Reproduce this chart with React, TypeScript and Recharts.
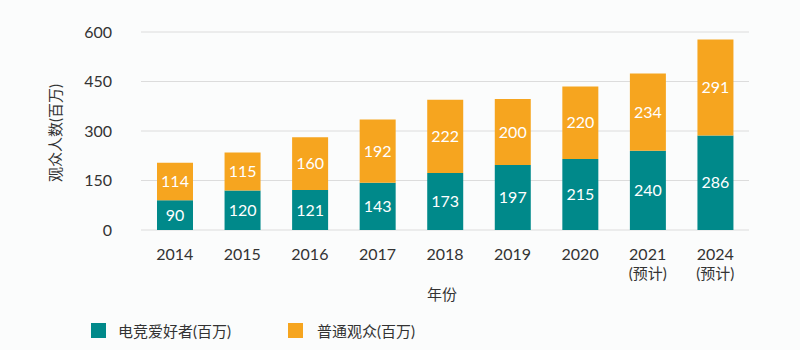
import React from "react"
import { BarChart, Bar, XAxis, YAxis, CartesianGrid, LabelList } from "recharts"

const years = ["2014", "2015", "2016", "2017", "2018", "2019", "2020", "2021\n(预计)", "2024\n(预计)"]
const esportsFans = [90, 120, 121, 143, 173, 197, 215, 240, 286]
const casualViewers = [114, 115, 160, 192, 222, 200, 220, 234, 291]
const yTicks = [0, 150, 300, 450, 600]

const TEAL = "#00898a"
const ORANGE = "#f6a51f"
const TEXT = "#333333"
const FONT = "Lato, 'Noto Sans CJK SC', sans-serif"

const data = years.map((year, i) => ({
  year,
  fans: esportsFans[i],
  casual: casualViewers[i],
}))

const YearTick = ({ x, y, payload }: any) => {
  const lines = String(payload.value).split("\n")
  return (
    <text x={x} y={y} textAnchor="middle" fill={TEXT} fontSize={16} fontFamily={FONT}>
      {lines.map((line, i) => (
        <tspan key={i} x={x} dy={i === 0 ? 28 : 19} fontSize={i === 0 ? 16 : 15}>
          {line}
        </tspan>
      ))}
    </text>
  )
}

export default function App() {
  return (
    <div
      style={{
        position: "fixed",
        left: 0,
        top: 0,
        width: 800,
        height: 350,
        background: "#fbfcfc",
        fontFamily: FONT,
      }}
    >
      <BarChart width={800} height={350} data={data} margin={{ top: 32, right: 51, left: 0, bottom: 0 }}>
        <CartesianGrid vertical={false} stroke="#dcdcdc" />
        <XAxis
          dataKey="year"
          axisLine={false}
          tickLine={false}
          tickSize={0}
          height={120}
          interval={0}
          tick={<YearTick />}
          label={{
            content: ({ viewBox }: any) => (
              <text
                x={viewBox.x + viewBox.width / 2 - 3}
                y={300}
                textAnchor="middle"
                fill={TEXT}
                fontSize={15}
                fontFamily={FONT}
              >
                年份
              </text>
            ),
          }}
        />
        <YAxis
          width={141}
          domain={[0, 600]}
          ticks={yTicks}
          axisLine={false}
          tickLine={false}
          tickSize={0}
          tickMargin={29}
          tick={{ fill: TEXT, fontSize: 16, fontFamily: FONT }}
          label={{
            content: ({ viewBox }: any) => {
              const cy = viewBox.y + viewBox.height / 2 + 2
              return (
                <text
                  x={55}
                  y={cy}
                  transform={`rotate(-90, 55, ${cy})`}
                  textAnchor="middle"
                  dominantBaseline="central"
                  fill={TEXT}
                  fontSize={15}
                  fontFamily={FONT}
                >
                  观众人数(百万)
                </text>
              )
            },
          }}
        />
        <Bar dataKey="fans" stackId="a" fill={TEAL} barSize={36} isAnimationActive={false}>
          <LabelList dataKey="fans" position="center" fill="#ffffff" fontSize={16} fontFamily={FONT} />
        </Bar>
        <Bar dataKey="casual" stackId="a" fill={ORANGE} barSize={36} isAnimationActive={false}>
          <LabelList dataKey="casual" position="center" fill="#ffffff" fontSize={16} fontFamily={FONT} />
        </Bar>
      </BarChart>

      {/* Legend */}
      <div style={{ position: "absolute", left: 91, top: 320, display: "flex", alignItems: "center", fontSize: 15, color: TEXT }}>
        <span style={{ width: 15, height: 15, background: TEAL, display: "inline-block", marginRight: 12 }} />
        <span>电竞爱好者(百万)</span>
      </div>
      <div style={{ position: "absolute", left: 288, top: 320, display: "flex", alignItems: "center", fontSize: 15, color: TEXT }}>
        <span style={{ width: 15, height: 15, background: ORANGE, display: "inline-block", marginRight: 14 }} />
        <span>普通观众(百万)</span>
      </div>
    </div>
  )
}
